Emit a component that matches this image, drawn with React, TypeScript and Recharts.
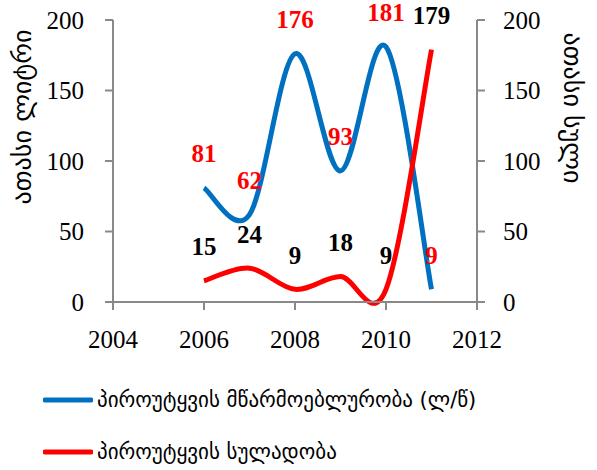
import React from "react";
import { LineChart, Line, XAxis, YAxis, Legend, LabelList } from "recharts";

const years = [2006, 2007, 2008, 2009, 2010, 2011];
const productivity = [81, 62, 176, 93, 181, 9];
const headcount = [15, 24, 9, 18, 9, 179];
const xTicks = [2004, 2006, 2008, 2010, 2012];
const yTicks = [0, 50, 100, 150, 200];
const seriesNames = ["პიროუტყვის მწარმოებლურობა (ლ/წ)", "პიროუტყვის სულადობა"];
const leftTitle = "ათასი ლიტრი";
const rightTitle = "ათასი სული";

const data = years.map((y, i) => ({ year: y, prod: productivity[i], head: headcount[i] }));

const BLUE = "#0070C0";
const RED = "#FF0000";
const AXIS = "#898989";
const NUM_FONT = "'Liberation Serif', serif";
const GEO_FONT = "'DejaVu Sans', sans-serif";

// Excel-like smoothed line (Catmull-Rom via Bezier, tension 1/6)
function excelCurve(context: any) {
  let pts: number[][] = [];
  return {
    areaStart() {},
    areaEnd() {},
    lineStart() {
      pts = [];
    },
    point(x: number, y: number) {
      pts.push([+x, +y]);
    },
    lineEnd() {
      if (!pts.length) return;
      context.moveTo(pts[0][0], pts[0][1]);
      for (let i = 0; i < pts.length - 1; i++) {
        const p0 = pts[i - 1] || pts[i];
        const p1 = pts[i];
        const p2 = pts[i + 1];
        const p3 = pts[i + 2] || p2;
        context.bezierCurveTo(
          p1[0] + (p2[0] - p0[0]) / 6,
          p1[1] + (p2[1] - p0[1]) / 6,
          p2[0] - (p3[0] - p1[0]) / 6,
          p2[1] - (p3[1] - p1[1]) / 6,
          p2[0],
          p2[1]
        );
      }
    },
  };
}

const makeLabel = (color: string) => (props: any) => {
  const { x, y, value } = props;
  return (
    <text
      x={x}
      y={y - 34}
      textAnchor="middle"
      dominantBaseline="central"
      fill={color}
      fontFamily={NUM_FONT}
      fontWeight="bold"
      fontSize={25}
    >
      {value}
    </text>
  );
};

const LegendContent = () => (
  <div style={{ position: "relative", height: 100, width: "100%" }}>
    {[BLUE, RED].map((c, i) => (
      <div
        key={i}
        style={{
          position: "absolute",
          left: 43,
          top: 30 + i * 52 - 15,
          height: 30,
          display: "flex",
          alignItems: "center",
          whiteSpace: "nowrap",
        }}
      >
        <svg width={50} height={10} style={{ display: "block" }}>
          <line x1={2} y1={5} x2={48} y2={5} stroke={c} strokeWidth={5} strokeLinecap="round" />
        </svg>
        <span style={{ fontFamily: GEO_FONT, fontSize: 21, color: "#000", marginLeft: 4 }}>
          {seriesNames[i]}
        </span>
      </div>
    ))}
  </div>
);

const LeftTitle = (props: any) => {
  const { viewBox } = props;
  const cx = viewBox.x + 22;
  const cy = viewBox.y + 97;
  return (
    <text
      x={cx}
      y={cy}
      transform={`rotate(-90, ${cx}, ${cy})`}
      textAnchor="middle"
      dominantBaseline="central"
      fontFamily={GEO_FONT}
      fontSize={26}
      fill="#000"
    >
      {leftTitle}
    </text>
  );
};

const RightTitle = (props: any) => {
  const { viewBox } = props;
  const cx = viewBox.x + 96;
  const cy = viewBox.y + 88;
  return (
    <text
      x={cx}
      y={cy}
      transform={`rotate(90, ${cx}, ${cy})`}
      textAnchor="middle"
      dominantBaseline="central"
      fontFamily={GEO_FONT}
      fontSize={26}
      fill="#000"
    >
      {rightTitle}
    </text>
  );
};

const tickStyle = { fill: "#000", fontFamily: NUM_FONT, fontSize: 25 };

export default function App() {
  return (
    <div style={{ position: "absolute", left: 0, top: 0, width: 597, height: 470, background: "#fff" }}>
      <LineChart width={597} height={470} data={data} margin={{ top: 20, right: 0, left: 0, bottom: 0 }}>
        <XAxis
          dataKey="year"
          type="number"
          domain={[2004, 2012]}
          ticks={xTicks}
          height={68}
          tickSize={8}
          tickMargin={20}
          stroke={AXIS}
          strokeWidth={2}
          tick={tickStyle}
          allowDecimals={false}
        />
        <YAxis
          yAxisId="left"
          domain={[0, 200]}
          ticks={yTicks}
          width={113}
          tickSize={8}
          tickMargin={21}
          stroke={AXIS}
          strokeWidth={2}
          tick={tickStyle}
          label={<LeftTitle />}
        />
        <YAxis
          yAxisId="right"
          orientation="right"
          domain={[0, 200]}
          ticks={yTicks}
          width={120}
          tickSize={8}
          tickMargin={18}
          stroke={AXIS}
          strokeWidth={2}
          tick={tickStyle}
          label={<RightTitle />}
        />
        <Legend
          verticalAlign="bottom"
          align="left"
          wrapperStyle={{ height: 100, width: 597, left: 0 }}
          content={() => <LegendContent />}
        />
        <Line
          yAxisId="left"
          dataKey="prod"
          name={seriesNames[0]}
          type={excelCurve as any}
          stroke={BLUE}
          strokeWidth={5}
          dot={false}
          isAnimationActive={false}
        >
          <LabelList dataKey="prod" content={makeLabel(RED)} />
        </Line>
        <Line
          yAxisId="right"
          dataKey="head"
          name={seriesNames[1]}
          type={excelCurve as any}
          stroke={RED}
          strokeWidth={5}
          dot={false}
          isAnimationActive={false}
        >
          <LabelList dataKey="head" content={makeLabel("#000")} />
        </Line>
      </LineChart>
    </div>
  );
}
